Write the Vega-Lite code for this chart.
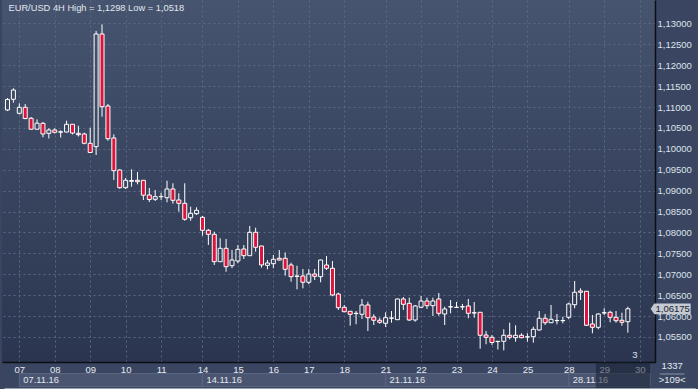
{
  "$schema": "https://vega.github.io/schema/vega-lite/v6.json",
  "width": 653,
  "height": 362,
  "autosize": {"type": "none"},
  "padding": {"left": 2, "top": 0, "right": 43, "bottom": 27},
  "background": "#3a4661",
  "view": {"stroke": null, "fill": {"gradient": "linear", "x1": 0, "y1": 0, "x2": 0, "y2": 1, "stops": [{"offset": 0, "color": "#46546f"}, {"offset": 1, "color": "#2b354f"}]}},
  "config": {"view": {"stroke": null}, "font": "Liberation Sans", "text": {"font": "Liberation Sans"}},
  "resolve": {"axis": {"x": "independent", "y": "independent"}},
  "datasets": {
    "candles": [
      {"i":0,"o":1.10931,"h":1.11218,"l":1.10907,"c":1.11182},
      {"i":1,"o":1.11187,"h":1.11450,"l":1.11105,"c":1.11409},
      {"i":2,"o":1.10852,"h":1.11091,"l":1.10823,"c":1.10995},
      {"i":3,"o":1.10995,"h":1.11074,"l":1.10708,"c":1.10727},
      {"i":4,"o":1.10732,"h":1.10763,"l":1.10464,"c":1.10471},
      {"i":5,"o":1.10471,"h":1.10708,"l":1.10464,"c":1.10615},
      {"i":6,"o":1.10612,"h":1.10644,"l":1.10278,"c":1.10357},
      {"i":7,"o":1.10373,"h":1.10493,"l":1.10249,"c":1.10452},
      {"i":8,"o":1.10452,"h":1.10493,"l":1.10369,"c":1.10397},
      {"i":9,"o":1.10400,"h":1.10445,"l":1.10273,"c":1.10409},
      {"i":10,"o":1.10404,"h":1.10675,"l":1.10397,"c":1.10589},
      {"i":11,"o":1.10589,"h":1.10596,"l":1.10345,"c":1.10380},
      {"i":12,"o":1.10373,"h":1.10553,"l":1.10297,"c":1.10340},
      {"i":13,"o":1.10357,"h":1.10388,"l":1.10110,"c":1.10134},
      {"i":14,"o":1.10134,"h":1.10505,"l":1.09907,"c":1.09914},
      {"i":15,"o":1.10053,"h":1.12821,"l":1.09854,"c":1.12749},
      {"i":16,"o":1.12749,"h":1.12980,"l":1.10770,"c":1.11010},
      {"i":17,"o":1.11026,"h":1.11074,"l":1.10196,"c":1.10244},
      {"i":18,"o":1.10261,"h":1.10349,"l":1.09256,"c":1.09479},
      {"i":19,"o":1.09495,"h":1.09512,"l":1.09048,"c":1.09072},
      {"i":20,"o":1.09072,"h":1.09304,"l":1.09041,"c":1.09249},
      {"i":21,"o":1.09225,"h":1.09512,"l":1.09096,"c":1.09244},
      {"i":22,"o":1.09249,"h":1.09447,"l":1.09153,"c":1.09215},
      {"i":23,"o":1.09249,"h":1.09256,"l":1.08778,"c":1.08892},
      {"i":24,"o":1.08897,"h":1.09065,"l":1.08730,"c":1.08790},
      {"i":25,"o":1.08794,"h":1.09017,"l":1.08754,"c":1.08857},
      {"i":26,"o":1.08857,"h":1.08952,"l":1.08778,"c":1.08862},
      {"i":27,"o":1.08833,"h":1.09239,"l":1.08723,"c":1.09041},
      {"i":28,"o":1.09041,"h":1.09177,"l":1.08689,"c":1.08770},
      {"i":29,"o":1.08778,"h":1.08938,"l":1.08498,"c":1.08699},
      {"i":30,"o":1.08699,"h":1.09177,"l":1.08282,"c":1.08316},
      {"i":31,"o":1.08354,"h":1.08617,"l":1.08282,"c":1.08459},
      {"i":32,"o":1.08450,"h":1.08603,"l":1.08419,"c":1.08531},
      {"i":33,"o":1.08364,"h":1.08395,"l":1.07924,"c":1.08053},
      {"i":34,"o":1.08053,"h":1.08084,"l":1.07701,"c":1.07957},
      {"i":35,"o":1.07957,"h":1.08019,"l":1.07223,"c":1.07302},
      {"i":36,"o":1.07302,"h":1.07861,"l":1.07294,"c":1.07622},
      {"i":37,"o":1.07622,"h":1.07845,"l":1.07062,"c":1.07182},
      {"i":38,"o":1.07206,"h":1.07581,"l":1.07144,"c":1.07342},
      {"i":39,"o":1.07318,"h":1.07701,"l":1.07263,"c":1.07598},
      {"i":40,"o":1.07606,"h":1.07701,"l":1.07366,"c":1.07445},
      {"i":41,"o":1.07445,"h":1.08156,"l":1.07440,"c":1.08005},
      {"i":42,"o":1.08005,"h":1.08115,"l":1.07541,"c":1.07646},
      {"i":43,"o":1.07677,"h":1.07680,"l":1.07158,"c":1.07223},
      {"i":44,"o":1.07215,"h":1.07342,"l":1.07120,"c":1.07270},
      {"i":45,"o":1.07254,"h":1.07462,"l":1.07144,"c":1.07359},
      {"i":46,"o":1.07383,"h":1.07581,"l":1.07326,"c":1.07342},
      {"i":47,"o":1.07383,"h":1.07526,"l":1.06967,"c":1.07120},
      {"i":48,"o":1.07223,"h":1.07278,"l":1.06823,"c":1.06943},
      {"i":49,"o":1.06959,"h":1.07206,"l":1.06641,"c":1.06950},
      {"i":50,"o":1.06959,"h":1.07127,"l":1.06665,"c":1.06809},
      {"i":51,"o":1.06809,"h":1.07127,"l":1.06761,"c":1.07007},
      {"i":52,"o":1.07007,"h":1.07127,"l":1.06864,"c":1.06952},
      {"i":53,"o":1.06943,"h":1.07350,"l":1.06809,"c":1.07342},
      {"i":54,"o":1.07223,"h":1.07438,"l":1.07103,"c":1.07144},
      {"i":55,"o":1.07144,"h":1.07318,"l":1.06474,"c":1.06505},
      {"i":56,"o":1.06529,"h":1.06560,"l":1.06146,"c":1.06201},
      {"i":57,"o":1.06211,"h":1.06266,"l":1.06091,"c":1.06105},
      {"i":58,"o":1.06115,"h":1.06122,"l":1.05770,"c":1.06043},
      {"i":59,"o":1.06067,"h":1.06122,"l":1.05804,"c":1.06060},
      {"i":60,"o":1.06043,"h":1.06409,"l":1.05931,"c":1.06266},
      {"i":61,"o":1.06266,"h":1.06345,"l":1.05644,"c":1.05962},
      {"i":62,"o":1.05979,"h":1.06043,"l":1.05787,"c":1.05900},
      {"i":63,"o":1.05900,"h":1.05962,"l":1.05818,"c":1.05852},
      {"i":64,"o":1.05828,"h":1.06091,"l":1.05739,"c":1.05962},
      {"i":65,"o":1.05948,"h":1.06122,"l":1.05842,"c":1.05955},
      {"i":66,"o":1.05914,"h":1.06420,"l":1.05910,"c":1.06409},
      {"i":67,"o":1.06409,"h":1.06457,"l":1.06146,"c":1.06282},
      {"i":68,"o":1.06306,"h":1.06441,"l":1.05883,"c":1.05907},
      {"i":69,"o":1.05907,"h":1.06266,"l":1.05867,"c":1.06242},
      {"i":70,"o":1.06211,"h":1.06481,"l":1.06187,"c":1.06361},
      {"i":71,"o":1.06361,"h":1.06441,"l":1.06170,"c":1.06249},
      {"i":72,"o":1.06249,"h":1.06441,"l":1.06003,"c":1.06361},
      {"i":73,"o":1.06409,"h":1.06553,"l":1.06010,"c":1.06067},
      {"i":74,"o":1.06050,"h":1.06225,"l":1.05787,"c":1.06170},
      {"i":75,"o":1.06218,"h":1.06385,"l":1.06067,"c":1.06225},
      {"i":76,"o":1.06211,"h":1.06337,"l":1.06194,"c":1.06205},
      {"i":77,"o":1.06220,"h":1.06290,"l":1.06146,"c":1.06225},
      {"i":78,"o":1.06242,"h":1.06409,"l":1.05948,"c":1.06067},
      {"i":79,"o":1.06081,"h":1.06337,"l":1.05962,"c":1.06075},
      {"i":80,"o":1.06091,"h":1.06098,"l":1.05220,"c":1.05541},
      {"i":81,"o":1.05548,"h":1.05644,"l":1.05326,"c":1.05493},
      {"i":82,"o":1.05493,"h":1.05548,"l":1.05309,"c":1.05369},
      {"i":83,"o":1.05397,"h":1.05405,"l":1.05200,"c":1.05390},
      {"i":84,"o":1.05397,"h":1.05684,"l":1.05180,"c":1.05541},
      {"i":85,"o":1.05541,"h":1.05842,"l":1.05445,"c":1.05493},
      {"i":86,"o":1.05484,"h":1.05780,"l":1.05388,"c":1.05541},
      {"i":87,"o":1.05541,"h":1.05589,"l":1.05469,"c":1.05484},
      {"i":88,"o":1.05500,"h":1.05589,"l":1.05388,"c":1.05505},
      {"i":89,"o":1.05507,"h":1.05747,"l":1.05364,"c":1.05684},
      {"i":90,"o":1.05668,"h":1.06122,"l":1.05651,"c":1.05948},
      {"i":91,"o":1.05948,"h":1.06050,"l":1.05787,"c":1.05842},
      {"i":92,"o":1.05842,"h":1.06266,"l":1.05835,"c":1.05924},
      {"i":93,"o":1.05890,"h":1.06050,"l":1.05804,"c":1.05895},
      {"i":94,"o":1.05895,"h":1.05986,"l":1.05828,"c":1.05890},
      {"i":95,"o":1.05971,"h":1.06321,"l":1.05924,"c":1.06290},
      {"i":96,"o":1.06273,"h":1.06840,"l":1.06187,"c":1.06570},
      {"i":97,"o":1.06601,"h":1.06665,"l":1.06385,"c":1.06570},
      {"i":98,"o":1.06594,"h":1.06601,"l":1.05763,"c":1.05780},
      {"i":99,"o":1.05811,"h":1.06026,"l":1.05589,"c":1.05732},
      {"i":100,"o":1.05732,"h":1.06067,"l":1.05684,"c":1.06050},
      {"i":101,"o":1.06075,"h":1.06187,"l":1.06026,"c":1.06081},
      {"i":102,"o":1.06091,"h":1.06129,"l":1.05852,"c":1.05971},
      {"i":103,"o":1.05971,"h":1.06122,"l":1.05842,"c":1.05890},
      {"i":104,"o":1.05900,"h":1.06081,"l":1.05770,"c":1.05852},
      {"i":105,"o":1.05866,"h":1.06225,"l":1.05603,"c":1.06175}
    ],
    "weeks": [
      {"s":2,"e":33,"label":"07.11.16"},
      {"s":33,"e":64,"label":"14.11.16"},
      {"s":64,"e":95,"label":"21.11.16"},
      {"s":95,"e":108.75,"label":"28.11.16"}
    ],
    "price": [{"p":1.06175,"label":"1,06175"}],
    "info": [{"title":"EUR/USD 4H High = 1,1298 Low = 1,0518","shift":"3","bars":"1337","visible":">109<"}]
  },
  "layer": [
    {
      "data": {"name": "candles"},
      "mark": {"type": "bar", "width": 4, "opacity": 0},
      "encoding": {
        "x": {"field": "i", "type": "quantitative", "scale": {"domain": [-0.083333, 108.75], "nice": false, "zero": false},
          "axis": {"orient": "bottom", "title": null, "values": [2,8,14,20,26,33,39,45,51,57,64,70,76,82,88,95,101,107],
            "labelExpr": "datum.value==2?'07':datum.value==8?'08':datum.value==14?'09':datum.value==20?'10':datum.value==26?'11':datum.value==33?'14':datum.value==39?'15':datum.value==45?'16':datum.value==51?'17':datum.value==57?'18':datum.value==64?'21':datum.value==70?'22':datum.value==76?'23':datum.value==82?'24':datum.value==88?'25':datum.value==95?'28':datum.value==101?'29':'30'",
            "ticks": false, "labelPadding": 2, "labelFont": "Liberation Sans", "labelFontSize": 9.5, "labelColor": "#e6eaf1",
            "labelFlush": false, "labelOverlap": false, "domainColor": "#0b0e14", "domainWidth": 1.5,
            "grid": true, "gridColor": "#5a6884", "gridDash": [2, 3], "gridWidth": 1}},
        "y": {"field": "o", "type": "quantitative", "scale": {"domain": [1.049019, 1.135622], "nice": false, "zero": false},
          "axis": {"orient": "right", "title": null, "values": [1.055,1.06,1.065,1.07,1.075,1.08,1.085,1.09,1.095,1.1,1.105,1.11,1.115,1.12,1.125,1.13],
            "labelExpr": "replace(format(datum.value, '.5f'), '.', ',')",
            "ticks": false, "labelPadding": 2, "labelAlign": "left", "labelFont": "Liberation Sans", "labelFontSize": 9.5, "labelColor": "#dde2ea",
            "labelFlush": false, "labelOverlap": false, "domainColor": "#0b0e14", "domainWidth": 1.5,
            "grid": true, "gridColor": "#5a6884", "gridDash": [2, 3], "gridWidth": 1}},
        "y2": {"field": "c"}
      }
    },
    {
      "data": {"name": "candles"},
      "transform": [{"filter": "datum.c < datum.o"}],
      "mark": {"type": "rule", "color": "#ffffff", "strokeWidth": 1},
      "encoding": {
        "x": {"field": "i", "type": "quantitative", "axis": null},
        "y": {"field": "l", "type": "quantitative", "axis": null},
        "y2": {"field": "h"}
      }
    },
    {
      "data": {"name": "candles"},
      "transform": [{"filter": "datum.c >= datum.o"}],
      "mark": {"type": "rule", "color": "#ffffff", "strokeWidth": 1},
      "encoding": {
        "x": {"field": "i", "type": "quantitative", "axis": null},
        "y": {"field": "c", "type": "quantitative", "axis": null},
        "y2": {"field": "h"}
      }
    },
    {
      "data": {"name": "candles"},
      "transform": [{"filter": "datum.c >= datum.o"}],
      "mark": {"type": "rule", "color": "#ffffff", "strokeWidth": 1},
      "encoding": {
        "x": {"field": "i", "type": "quantitative", "axis": null},
        "y": {"field": "l", "type": "quantitative", "axis": null},
        "y2": {"field": "o"}
      }
    },
    {
      "data": {"name": "candles"},
      "mark": {"type": "bar", "width": 4, "stroke": "#ffffff", "strokeWidth": 1},
      "encoding": {
        "x": {"field": "i", "type": "quantitative", "axis": null},
        "y": {"field": "o", "type": "quantitative", "axis": null},
        "y2": {"field": "c"},
        "fill": {"condition": {"test": "datum.c < datum.o", "value": "#dc143c"}, "value": "transparent"}
      }
    },
    {
      "data": {"name": "weeks"},
      "mark": {"type": "rect", "fill": "#4a5671", "stroke": "#5b6781", "strokeWidth": 1},
      "encoding": {
        "x": {"field": "s", "type": "quantitative", "axis": null},
        "x2": {"field": "e"},
        "y": {"datum": 1.046268, "type": "quantitative", "axis": null},
        "y2": {"datum": 1.043158}
      }
    },
    {
      "data": {"name": "weeks"},
      "mark": {"type": "text", "align": "left", "baseline": "middle", "dx": 4, "fontSize": 9.3, "color": "#e2e6ee"},
      "encoding": {
        "x": {"field": "s", "type": "quantitative", "axis": null},
        "y": {"datum": 1.044713, "type": "quantitative", "axis": null},
        "text": {"field": "label"}
      }
    },
    {
      "data": {"name": "price"},
      "mark": {"type": "rect", "fill": "#151c2e", "opacity": 0.52},
      "encoding": {
        "x": {"datum": 99.58, "type": "quantitative", "axis": null},
        "x2": {"datum": 108.75},
        "y": {"datum": 1.049019, "type": "quantitative", "axis": null},
        "y2": {"datum": 1.042799}
      }
    },
    {
      "data": {"name": "info"},
      "mark": {"type": "rule", "color": "#9aa2b2", "strokeWidth": 2},
      "encoding": {
        "x": {"datum": -0.5, "type": "quantitative", "axis": null},
        "x2": {"datum": 116.5},
        "y": {"datum": 1.042559, "type": "quantitative", "axis": null}
      }
    },
    {
      "data": {"name": "price"},
      "mark": {"type": "point", "filled": true, "opacity": 1, "color": "#c5c9d1", "size": 1600, "shape": "M-1,0L-0.82,-0.27L1,-0.27L1,0.27L-0.82,0.27Z"},
      "encoding": {
        "x": {"datum": 112.25, "type": "quantitative", "axis": null},
        "y": {"field": "p", "type": "quantitative", "axis": null}
      }
    },
    {
      "data": {"name": "price"},
      "mark": {"type": "text", "align": "center", "baseline": "middle", "dx": 2, "fontSize": 9.5, "color": "#1b2236"},
      "encoding": {
        "x": {"datum": 112.25, "type": "quantitative", "axis": null},
        "y": {"field": "p", "type": "quantitative", "axis": null},
        "text": {"field": "label"}
      }
    },
    {
      "data": {"name": "info"},
      "mark": {"type": "text", "align": "left", "baseline": "middle", "dx": 1, "fontSize": 9.3, "color": "#e3e7ee"},
      "encoding": {
        "x": {"datum": 0, "type": "quantitative", "axis": null},
        "y": {"datum": 1.133708, "type": "quantitative", "axis": null},
        "text": {"field": "title"}
      }
    },
    {
      "data": {"name": "info"},
      "mark": {"type": "text", "align": "center", "baseline": "middle", "fontSize": 9.5, "color": "#d8e2f0"},
      "encoding": {
        "x": {"datum": 106.2, "type": "quantitative", "axis": null},
        "y": {"datum": 1.050694, "type": "quantitative", "axis": null},
        "text": {"field": "shift"}
      }
    },
    {
      "data": {"name": "info"},
      "mark": {"type": "text", "align": "center", "baseline": "middle", "fontSize": 9.5, "color": "#e6eaf1"},
      "encoding": {
        "x": {"datum": 112.5, "type": "quantitative", "axis": null},
        "y": {"datum": 1.047943, "type": "quantitative", "axis": null},
        "text": {"field": "bars"}
      }
    },
    {
      "data": {"name": "info"},
      "mark": {"type": "rule", "color": "#8a93a6", "strokeWidth": 1},
      "encoding": {
        "x": {"datum": 110.42, "type": "quantitative", "axis": null},
        "x2": {"datum": 114.58},
        "y": {"datum": 1.046148, "type": "quantitative", "axis": null}
      }
    },
    {
      "data": {"name": "info"},
      "mark": {"type": "text", "align": "center", "baseline": "middle", "fontSize": 9.5, "color": "#e6eaf1"},
      "encoding": {
        "x": {"datum": 112.5, "type": "quantitative", "axis": null},
        "y": {"datum": 1.044713, "type": "quantitative", "axis": null},
        "text": {"field": "visible"}
      }
    }
  ]
}
